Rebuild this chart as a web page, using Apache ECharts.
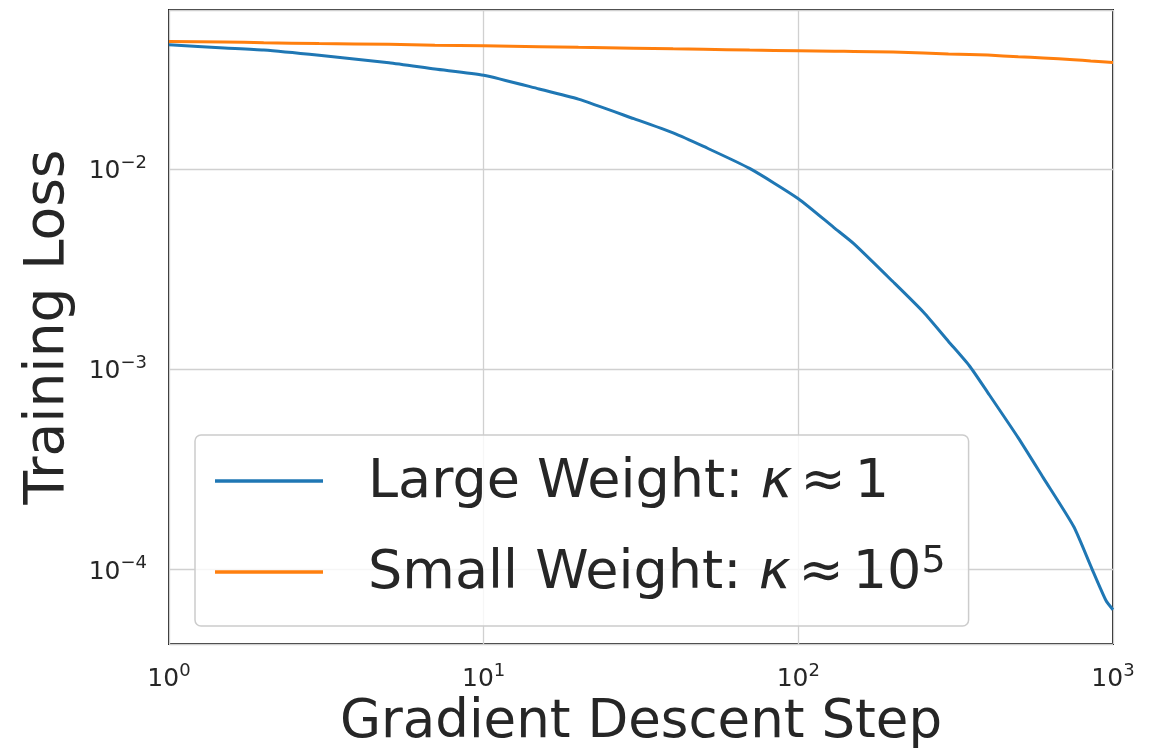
<!DOCTYPE html>
<html>
<head>
<meta charset="utf-8">
<script src="https://cdn.jsdelivr.net/npm/echarts@6/dist/echarts.min.js"></script>
<style>
  html, body { margin: 0; padding: 0; background: #ffffff; }
  #main { width: 1157px; height: 755px; }
</style>
</head>
<body>
<div id="main"></div>
<script>
// 数据：梯度下降步数与两种权重下的训练损失
var steps = [1, 1.5, 2, 3, 5, 7, 10, 15, 20, 30, 40, 50, 70, 100, 130, 150, 200, 250, 300, 350, 400, 500, 600, 750, 850, 950, 1000];
var largeWeightLoss = [0.0419, 0.0404, 0.0394, 0.0371, 0.0341, 0.0317, 0.0295, 0.0252, 0.0224, 0.0179, 0.0152, 0.0130, 0.0101, 0.00713, 0.0051, 0.00425, 0.00274, 0.00193, 0.00138, 0.00104, 0.000766, 0.000455, 0.000288, 0.000164, 0.000104, 0.000070, 0.000063];
var smallWeightLoss = [0.0435, 0.0433, 0.0429, 0.0425, 0.0421, 0.0417, 0.0414, 0.0410, 0.0407, 0.0403, 0.0400, 0.0398, 0.0394, 0.0391, 0.0389, 0.0388, 0.0385, 0.0381, 0.0377, 0.0375, 0.0372, 0.0365, 0.0360, 0.0353, 0.0348, 0.0344, 0.0342];
var seriesNames = ['Large Weight: κ ≈ 1', 'Small Weight: κ ≈ 10⁵'];
var xTickPowers = [0, 1, 2, 3];
var yTickPowers = [-4, -3, -2];

var FONT = 'DejaVu Sans';
var TEXT = '#262626';

function pairs(xs, ys) {
  return xs.map(function (x, i) { return [x, ys[i]]; });
}

// 10^n 刻度标签（上标）
function powerLabel(allowed) {
  return function (v) {
    var e = Math.log10(v);
    var r = Math.round(e);
    if (Math.abs(e - r) > 1e-6 || allowed.indexOf(r) < 0) return '';
    return '{b|10}{s|' + (r < 0 ? '−' : '') + Math.abs(r) + '}';
  };
}

var tickRich = {
  b: { fontFamily: FONT, fontSize: 25, color: TEXT, lineHeight: 30, verticalAlign: 'bottom' },
  s: { fontFamily: FONT, fontSize: 18, color: TEXT, lineHeight: 18, verticalAlign: 'top' }
};

var chart = echarts.init(document.getElementById('main'), null, { renderer: 'canvas' });

var option = {
  backgroundColor: '#ffffff',
  animation: false,
  grid: {
    left: 169,
    right: 44,
    top: 10,
    bottom: 108,
    show: true,
    borderColor: '#262626',
    borderWidth: 2,
    containLabel: false
  },
  legend: {
    orient: 'vertical',
    left: 195,
    top: 435,
    padding: [21, 23, 25, 20],
    itemGap: 33,
    itemWidth: 108,
    itemHeight: 3.5,
    icon: 'rect',
    backgroundColor: 'rgba(255,255,255,0.8)',
    borderColor: '#cccccc',
    borderWidth: 1.5,
    borderRadius: 6,
    data: seriesNames,
    formatter: function (name) {
      if (name === seriesNames[0]) {
        return '{n0|Large Weight: }{k|κ}{a|≈}{n|1}';
      }
      return '{n0|Small Weight: }{k|κ}{a|≈}{n|10}{sup|5}';
    },
    textStyle: {
      rich: {
        n0: { fontFamily: FONT, fontSize: 54, color: TEXT, lineHeight: 58, verticalAlign: 'bottom', padding: [0, 0, 0, 40] },
        n: { fontFamily: FONT, fontSize: 54, color: TEXT, lineHeight: 58, verticalAlign: 'bottom' },
        k: { fontFamily: FONT, fontSize: 54, fontStyle: 'italic', color: TEXT, lineHeight: 58, verticalAlign: 'bottom' },
        a: { fontFamily: FONT, fontSize: 54, color: TEXT, lineHeight: 58, verticalAlign: 'bottom', padding: [0, 9, 0, 8] },
        sup: { fontFamily: FONT, fontSize: 38, color: TEXT, lineHeight: 38, verticalAlign: 'top' }
      }
    }
  },
  xAxis: {
    type: 'log',
    logBase: 10,
    min: 1,
    max: 1000,
    name: 'Gradient Descent Step',
    nameLocation: 'middle',
    nameGap: 50,
    nameTextStyle: { fontFamily: FONT, fontSize: 53, color: TEXT },
    axisLine: { show: false },
    axisTick: { show: false },
    axisLabel: {
      margin: 18,
      showMinLabel: true,
      showMaxLabel: true,
      formatter: powerLabel(xTickPowers),
      rich: tickRich
    },
    splitLine: { show: true, lineStyle: { color: '#d0d0d0', width: 1.3 } },
    minorSplitLine: { show: false }
  },
  yAxis: {
    type: 'log',
    logBase: 10,
    min: 4.24e-5,
    max: 0.0625,
    name: 'Training Loss',
    nameLocation: 'middle',
    nameGap: 93,
    nameTextStyle: { fontFamily: FONT, fontSize: 55, color: TEXT },
    axisLine: { show: false },
    axisTick: { show: false },
    axisLabel: {
      margin: 22,
      formatter: powerLabel(yTickPowers),
      rich: tickRich
    },
    splitLine: { show: true, lineStyle: { color: '#d0d0d0', width: 1.3 } }
  },
  series: [
    {
      name: seriesNames[0],
      type: 'line',
      symbol: 'none',
      smooth: 0.2,
      data: pairs(steps, largeWeightLoss),
      lineStyle: { color: '#1f77b4', width: 3 },
      itemStyle: { color: '#1f77b4' },
      z: 3
    },
    {
      name: seriesNames[1],
      type: 'line',
      symbol: 'none',
      smooth: 0.2,
      data: pairs(steps, smallWeightLoss),
      lineStyle: { color: '#ff7f0e', width: 3 },
      itemStyle: { color: '#ff7f0e' },
      z: 2
    }
  ]
};

chart.setOption(option);
</script>
</body>
</html>
